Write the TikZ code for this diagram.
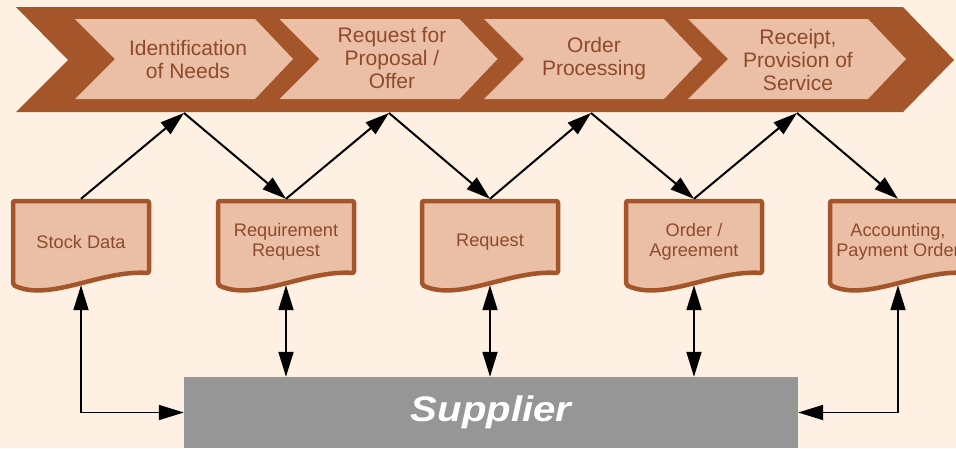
\documentclass[tikz,border=0pt]{standalone}
\usepackage{fontspec}
\setmainfont{Liberation Sans}
\usetikzlibrary{arrows.meta}
\definecolor{bg}{HTML}{FEF0E3}
\definecolor{band}{HTML}{A5552A}
\definecolor{chev}{HTML}{EABFA5}
\definecolor{txt}{HTML}{8E4A2A}
\definecolor{supgray}{HTML}{969696}
\begin{document}
\begin{tikzpicture}[x=1pt,y=-1pt,
  chevtext/.style={text=txt, align=center, inner sep=0pt, font=\fontsize{21}{23}\selectfont},
  doctext/.style={text=txt, align=center, inner sep=0pt, minimum width=140pt, minimum height=86pt, font=\fontsize{18.2}{19.5}\selectfont},
  docshape/.style={draw=band, fill=chev, line width=4.5pt, rounded corners=2pt},
  flow/.style={line width=2pt, -{Triangle[length=24pt,width=15pt]}},
  dbl/.style={line width=1.8pt, {Triangle[length=25pt,width=15pt]}-{Triangle[length=25pt,width=15pt]}},
  supbox/.style={fill=supgray, text=white, inner sep=0pt, minimum width=614pt, minimum height=71pt, font=\fontsize{35.5}{40}\selectfont\bfseries\itshape}]
\fill[bg] (0,0) rectangle (956,448);
\useasboundingbox (0,0) rectangle (956,448);
% band
\fill[band] (16,7) -- (903,7) -- (954,60) -- (903,112) -- (16,112) -- (68,60) -- cycle;
% chevrons
\foreach \L in {75,279.5,484,688}{
  \fill[chev] (\L,19) -- ++(180,0) -- ++(38,40) -- ++(-38,40) -- ++(-180,0) -- ++(40,-40) -- cycle;
}
\node[chevtext] (p1) at (188,59) {Identification\\of Needs};
\node[chevtext] (p2) at (392,58) {Request for\\Proposal /\\Offer};
\node[chevtext] (p3) at (594,59) {Order\\Processing};
\node[chevtext] (p4) at (798,60) {Receipt,\\Provision of\\Service};
\coordinate (a1) at (184,113);
\coordinate (a2) at (389,113);
\coordinate (a3) at (591,113);
\coordinate (a4) at (797,113);
% documents
\foreach \c in {81,286,490,694,898}{
  \draw[docshape] (\c-68,201) -- (\c+68,201) -- (\c+68,273)
     .. controls (\c+19,270) and (\c-31,302) .. (\c-68,285) -- cycle;
}
\node[doctext] (d1) at (81,242) {Stock Data};
\node[doctext] (d2) at (286,242) {Requirement\\Request};
\node[doctext] (d3) at (490,242) {Request};
\node[doctext] (d4) at (694,242) {Order /\\Agreement};
\node[doctext] (d5) at (898,242) {Accounting,\\Payment Order};
% supplier
\node[supbox] (s) at (491,412.5) {\scalebox{1.13}[1]{Supplier}};
% zigzag connectors
\draw[flow] (d1.north) -- (a1);
\draw[flow] (a1) -- (d2.north);
\draw[flow] (d2.north) -- (a2);
\draw[flow] (a2) -- (d3.north);
\draw[flow] (d3.north) -- (a3);
\draw[flow] (a3) -- (d4.north);
\draw[flow] (d4.north) -- (a4);
\draw[flow] (a4) -- (d5.north);
% supplier connectors
\draw[dbl] (d1.south) |- (s.west);
\draw[dbl] (d5.south) |- (s.east);
\draw[dbl] (d2.south) -- (d2.south |- s.north);
\draw[dbl] (d3.south) -- (d3.south |- s.north);
\draw[dbl] (d4.south) -- (d4.south |- s.north);
\end{tikzpicture}
\end{document}
